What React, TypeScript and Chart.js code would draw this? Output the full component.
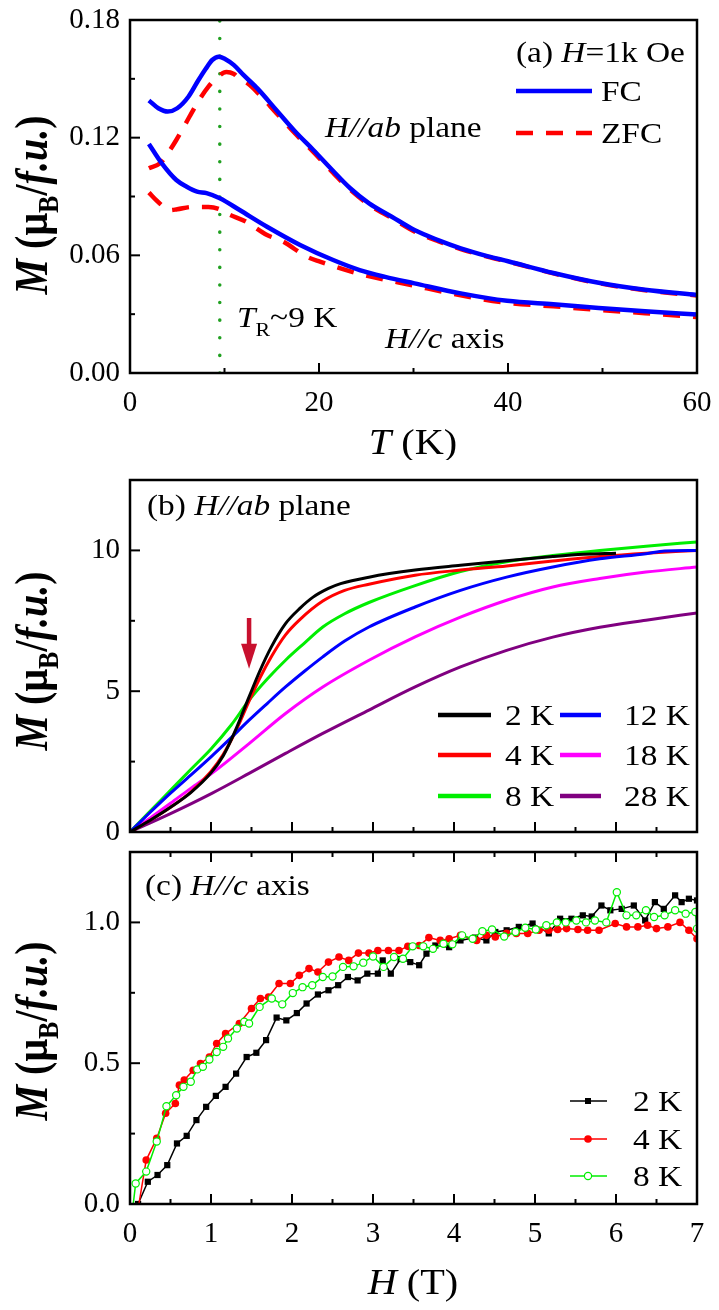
import React, { useEffect, useRef } from 'react';
import { Chart, registerables } from 'chart.js';

Chart.register(...registerables);

const FAM = '"Liberation Serif", "Times New Roman", serif';
const SX = 1.15;

const BLUE = '#0000ff';
const RED = '#ff0000';
const GREEN = '#00ee00';
const BLACK = '#000000';
const MAGENTA = '#ff00ff';
const PURPLE = '#800080';
const DOT_GREEN = '#20a020';
const ARROW_RED = '#c8102e';
const ZFC_DASH = [17, 13];

// ---------- Panel (a): M vs T, H = 1 kOe ----------
const A_X_TICKS = [0, 20, 40, 60];
const A_X_MINOR = [10, 30, 50];
const A_Y_TICKS = [0, 0.06, 0.12, 0.18];
const A_Y_MINOR = [0.03, 0.09, 0.15];
const T_R = 9.5;

const T_AB_FC = [2, 3, 4, 5, 6.2, 7.2, 8, 8.7, 9.4, 10.1, 11, 12, 13.5, 15.5, 17.5, 19.4, 21.4, 23.3, 25.3, 27.7, 30.1, 32.6, 35, 37.9, 40, 44.8, 49.6, 54.5, 60];
const M_AB_FC = [0.139, 0.135, 0.1333, 0.135, 0.141, 0.149, 0.155, 0.1596, 0.1613, 0.16, 0.157, 0.152, 0.145, 0.134, 0.123, 0.1137, 0.1035, 0.0942, 0.0865, 0.0797, 0.0729, 0.0678, 0.0636, 0.0595, 0.057, 0.051, 0.046, 0.0425, 0.0398];

const T_AB_ZFC = [2, 3.2, 4, 4.9, 5.8, 7.1, 8.3, 9.3, 10.2, 11, 11.6, 12.5, 13.5, 15.5, 17.5, 19.4, 21.4, 23.3, 25.3, 27.7, 30.1, 32.6, 35, 37.9, 40, 44.8, 49.6, 54.5, 60];
const M_AB_ZFC = [0.1044, 0.107, 0.112, 0.1188, 0.1264, 0.1375, 0.146, 0.151, 0.1535, 0.1525, 0.15, 0.1475, 0.143, 0.1325, 0.122, 0.1127, 0.1025, 0.0935, 0.0858, 0.079, 0.0722, 0.0672, 0.0632, 0.0592, 0.0568, 0.0508, 0.0458, 0.0422, 0.0395];

const T_C_FC = [2, 3.35, 4.9, 6, 7.1, 8.1, 9.5, 11.6, 14.5, 18, 21.5, 24.3, 27, 30.1, 35, 39.9, 44.8, 49.6, 54.5, 60];
const M_C_FC = [0.1168, 0.107, 0.0984, 0.095, 0.0925, 0.0917, 0.0891, 0.0831, 0.0746, 0.0653, 0.0576, 0.0525, 0.049, 0.0457, 0.0406, 0.0368, 0.035, 0.0332, 0.0315, 0.0298];

const T_C_ZFC = [2, 2.8, 3.5, 4.2, 5, 6.6, 8.3, 9.5, 10.2, 12.3, 14.5, 16.2, 18.7, 20.1, 24.3, 30.1, 35, 39.9, 44.8, 49.6, 54.5, 60];
const M_C_ZFC = [0.092, 0.088, 0.085, 0.083, 0.0835, 0.0847, 0.0847, 0.0835, 0.0815, 0.0771, 0.0704, 0.067, 0.0593, 0.0568, 0.0505, 0.0445, 0.0396, 0.0358, 0.034, 0.0322, 0.0305, 0.0285];

// ---------- Panel (b): M vs H, H // ab ----------
const H_X_TICKS = [0, 1, 2, 3, 4, 5, 6, 7];
const H_X_MINOR = [0.5, 1.5, 2.5, 3.5, 4.5, 5.5, 6.5];
const B_Y_TICKS = [0, 5, 10];
const B_Y_MINOR = [2.5, 7.5];
const ARROW_H = 1.47;
const ARROW_FROM = 7.6;
const ARROW_TO = 5.8;

const H_B2 = [0, 0.25, 0.5, 0.75, 1.0, 1.15, 1.3, 1.47, 1.6, 1.75, 1.92, 2.1, 2.26, 2.45, 2.6, 2.95, 3.52, 4.08, 4.65, 5.22, 5.6, 6.0];
const M_B2 = [0, 0.42, 0.88, 1.4, 2.1, 2.7, 3.6, 4.8, 5.7, 6.6, 7.4, 7.95, 8.34, 8.65, 8.82, 9.05, 9.3, 9.47, 9.63, 9.78, 9.86, 9.9];
const H_B4 = [0, 0.25, 0.5, 0.75, 1.0, 1.15, 1.3, 1.47, 1.6, 1.75, 1.92, 2.1, 2.38, 2.65, 2.95, 3.52, 4.08, 4.65, 5.22, 5.8, 6.37, 7];
const M_B4 = [0, 0.42, 0.88, 1.42, 2.15, 2.75, 3.55, 4.65, 5.45, 6.25, 7.0, 7.55, 8.2, 8.58, 8.8, 9.12, 9.3, 9.45, 9.62, 9.78, 9.9, 10.0];
const H_B8 = [0, 0.25, 0.5, 0.75, 1.0, 1.25, 1.47, 1.7, 1.92, 2.15, 2.38, 2.65, 2.95, 3.52, 4.08, 4.65, 5.22, 5.8, 6.37, 7];
const M_B8 = [0, 0.74, 1.48, 2.22, 2.95, 3.8, 4.68, 5.45, 6.1, 6.7, 7.28, 7.75, 8.15, 8.75, 9.25, 9.6, 9.82, 10.0, 10.15, 10.3];
const H_B12 = [0, 0.25, 0.5, 0.75, 1.0, 1.25, 1.47, 1.7, 1.92, 2.15, 2.38, 2.65, 2.95, 3.52, 4.08, 4.65, 5.22, 5.8, 6.37, 6.6, 7];
const M_B12 = [0, 0.7, 1.38, 2.02, 2.67, 3.35, 3.97, 4.58, 5.15, 5.7, 6.22, 6.78, 7.28, 7.99, 8.58, 9.05, 9.41, 9.7, 9.88, 9.98, 10.0];
const H_B18 = [0, 0.25, 0.5, 0.75, 1.01, 1.47, 1.92, 2.38, 2.95, 3.52, 4.08, 4.65, 5.22, 5.8, 6.37, 7];
const M_B18 = [0, 0.5, 1.02, 1.55, 2.08, 3.14, 4.21, 5.15, 6.1, 6.93, 7.63, 8.23, 8.7, 9.0, 9.23, 9.41];
const H_B28 = [0, 0.5, 1.01, 1.47, 1.92, 2.38, 2.95, 3.52, 4.08, 4.65, 5.22, 5.8, 6.37, 7];
const M_B28 = [0, 0.65, 1.37, 2.08, 2.79, 3.5, 4.33, 5.15, 5.86, 6.45, 6.92, 7.27, 7.52, 7.78];

// ---------- Panel (c): M vs H, H // c ----------
const C_Y_TICKS = [0, 0.5, 1.0];
const C_Y_MINOR = [0.25, 0.75];

const H_C2 = [0.1, 0.22, 0.34, 0.46, 0.58, 0.7, 0.82, 0.94, 1.06, 1.18, 1.31, 1.44, 1.56, 1.68, 1.81, 1.93, 2.06, 2.18, 2.32, 2.45, 2.57, 2.69, 2.81, 2.93, 3.06, 3.12, 3.22, 3.34, 3.46, 3.57, 3.66, 3.77, 3.94, 4.08, 4.26, 4.4, 4.51, 4.65, 4.8, 4.97, 5.17, 5.31, 5.45, 5.59, 5.7, 5.82, 5.93, 6.07, 6.22, 6.36, 6.48, 6.59, 6.73, 6.81, 6.9, 7.0];
const M_C2 = [0, 0.079, 0.103, 0.138, 0.215, 0.242, 0.298, 0.345, 0.384, 0.416, 0.463, 0.522, 0.537, 0.582, 0.662, 0.652, 0.678, 0.712, 0.744, 0.759, 0.777, 0.806, 0.794, 0.818, 0.818, 0.865, 0.818, 0.87, 0.859, 0.848, 0.889, 0.918, 0.912, 0.936, 0.946, 0.936, 0.966, 0.972, 0.984, 0.996, 0.961, 1.013, 1.013, 1.025, 1.021, 1.06, 1.043, 1.048, 1.06, 1.007, 1.072, 1.048, 1.096, 1.072, 1.084, 1.078];
const H_C4 = [0.11, 0.2, 0.33, 0.44, 0.56, 0.61, 0.67, 0.78, 0.87, 0.98, 1.07, 1.18, 1.35, 1.5, 1.61, 1.71, 1.84, 1.98, 2.09, 2.21, 2.32, 2.45, 2.58, 2.7, 2.82, 2.95, 3.06, 3.19, 3.32, 3.43, 3.57, 3.69, 3.83, 3.94, 4.08, 4.28, 4.4, 4.51, 4.65, 4.77, 4.91, 5.05, 5.17, 5.28, 5.39, 5.53, 5.65, 5.79, 5.99, 6.13, 6.27, 6.39, 6.5, 6.64, 6.79, 6.9, 7.0];
const M_C4 = [0, 0.156, 0.233, 0.322, 0.357, 0.422, 0.44, 0.475, 0.499, 0.522, 0.57, 0.605, 0.641, 0.694, 0.73, 0.735, 0.783, 0.783, 0.812, 0.836, 0.824, 0.859, 0.877, 0.865, 0.891, 0.891, 0.9, 0.9, 0.9, 0.915, 0.918, 0.946, 0.936, 0.942, 0.954, 0.936, 0.954, 0.948, 0.961, 0.961, 0.961, 0.972, 0.972, 0.975, 0.978, 0.975, 0.972, 0.972, 0.996, 0.984, 0.984, 0.99, 0.978, 0.984, 1.0, 0.972, 0.942];
const H_C8 = [0.04, 0.07, 0.2, 0.33, 0.45, 0.57, 0.66, 0.75, 0.83, 0.9, 0.98, 1.07, 1.15, 1.21, 1.32, 1.41, 1.47, 1.6, 1.75, 1.88, 2.01, 2.13, 2.25, 2.38, 2.5, 2.63, 2.76, 2.88, 3.0, 3.13, 3.26, 3.37, 3.49, 3.62, 3.74, 3.87, 3.98, 4.1, 4.23, 4.35, 4.47, 4.62, 4.76, 4.88, 5.01, 5.14, 5.27, 5.38, 5.51, 5.63, 5.74, 5.88, 6.01, 6.13, 6.25, 6.37, 6.47, 6.6, 6.73, 6.86, 6.98, 7.0];
const M_C8 = [0, 0.073, 0.115, 0.222, 0.347, 0.386, 0.416, 0.434, 0.478, 0.487, 0.513, 0.54, 0.558, 0.588, 0.623, 0.647, 0.641, 0.7, 0.73, 0.709, 0.749, 0.77, 0.777, 0.806, 0.808, 0.842, 0.844, 0.857, 0.879, 0.842, 0.877, 0.871, 0.915, 0.915, 0.906, 0.924, 0.922, 0.954, 0.942, 0.969, 0.975, 0.95, 0.966, 0.981, 0.975, 0.99, 1.0, 1.0, 1.007, 1.0, 1.007, 1.0, 1.107, 1.025, 1.025, 1.043, 1.019, 1.025, 1.043, 1.031, 1.037, 0.978];

// ---------- helpers ----------
type Seg = { t: string; i?: boolean; b?: boolean; s?: number; dy?: number };

const pts = (xs: number[], ys: number[]) => xs.map((x, k) => ({ x, y: ys[k] }));

function fontOf(sg: Seg, base: number) {
  return `${sg.i ? 'italic ' : ''}${sg.b ? 'bold ' : ''}${sg.s ?? base}px ${FAM}`;
}

function drawRich(ctx: CanvasRenderingContext2D, segs: Seg[], x: number, cy: number, base: number, align: 'left' | 'center' = 'left', rotate = false) {
  ctx.save();
  const ws = segs.map((sg) => {
    ctx.font = fontOf(sg, base);
    return ctx.measureText(sg.t).width;
  });
  const total = ws.reduce((a, b) => a + b, 0);
  ctx.translate(x, cy);
  ctx.scale(SX, 1);
  if (rotate) ctx.rotate(-Math.PI / 2);
  let cx = align === 'center' ? -total / 2 : 0;
  ctx.textBaseline = 'alphabetic';
  ctx.textAlign = 'left';
  ctx.fillStyle = '#000';
  const bl = base * 0.33;
  segs.forEach((sg, k) => {
    ctx.font = fontOf(sg, base);
    ctx.fillText(sg.t, cx, bl + (sg.dy ?? 0));
    cx += ws[k];
  });
  ctx.restore();
}

function seg(ctx: CanvasRenderingContext2D, x1: number, y1: number, x2: number, y2: number, color: string, w: number, dash: number[] = []) {
  ctx.save();
  ctx.strokeStyle = color;
  ctx.lineWidth = w;
  ctx.setLineDash(dash);
  ctx.beginPath();
  ctx.moveTo(x1, y1);
  ctx.lineTo(x2, y2);
  ctx.stroke();
  ctx.restore();
}

const Y_TITLE: Seg[] = [
  { t: 'M', i: true, b: true },
  { t: ' (', b: true },
  { t: 'μ', b: true },
  { t: 'B', b: true, s: 26, dy: 9 },
  { t: '/', b: true },
  { t: 'f.u.', b: true, i: true },
  { t: ')', b: true },
];

type PanelCfg = {
  top: number;
  height: number;
  padTop: number;
  xAxisH: number;
  xMax: number;
  yMax: number;
  xTicks: number[];
  xMinor: number[];
  yTicks: number[];
  yMinor: number[];
  xLabels: boolean;
  topTicks: boolean;
  titleY: number;
  yFmt: (v: number) => string;
  datasets: any[];
  extra: (ctx: CanvasRenderingContext2D, chart: any, off: number) => void;
};

function decorPlugin(cfg: PanelCfg) {
  return {
    id: 'decor',
    afterDraw(chart: any) {
      const { ctx, chartArea: ca, scales } = chart;
      const xs = scales.x;
      const ys = scales.y;
      const tk = (x1: number, y1: number, x2: number, y2: number) => seg(ctx, x1, y1, x2, y2, '#000', 2);
      cfg.xTicks.forEach((v) => {
        const p = xs.getPixelForValue(v);
        tk(p, ca.bottom, p, ca.bottom - 10);
        if (cfg.topTicks) tk(p, ca.top, p, ca.top + 10);
      });
      cfg.xMinor.forEach((v) => {
        const p = xs.getPixelForValue(v);
        tk(p, ca.bottom, p, ca.bottom - 5);
        if (cfg.topTicks) tk(p, ca.top, p, ca.top + 5);
      });
      cfg.yTicks.forEach((v) => {
        const p = ys.getPixelForValue(v);
        tk(ca.left, p, ca.left + 10, p);
      });
      cfg.yMinor.forEach((v) => {
        const p = ys.getPixelForValue(v);
        tk(ca.left, p, ca.left + 5, p);
      });
      ctx.save();
      ctx.strokeStyle = '#000';
      ctx.lineWidth = 2.5;
      ctx.strokeRect(ca.left, ca.top, ca.right - ca.left, ca.bottom - ca.top);
      ctx.restore();
      drawRich(ctx, Y_TITLE, 32, cfg.titleY - cfg.top, 40, 'center', true);
      cfg.extra(ctx, chart, cfg.top);
    },
  };
}

function buildConfig(cfg: PanelCfg): any {
  return {
    type: 'scatter',
    data: { datasets: cfg.datasets },
    options: {
      animation: false,
      responsive: false,
      devicePixelRatio: 1,
      layout: { padding: { left: 0, right: 22, top: cfg.padTop, bottom: 0 } },
      plugins: { legend: { display: false }, tooltip: { enabled: false } },
      elements: { line: { fill: false } },
      scales: {
        x: {
          type: 'linear',
          min: 0,
          max: cfg.xMax,
          grid: { display: false, drawTicks: false },
          border: { display: false },
          ticks: {
            display: cfg.xLabels,
            color: '#000',
            padding: 13,
            maxRotation: 0,
            font: { family: FAM, size: 29 },
            callback: (v: number) => String(v),
          },
          afterBuildTicks: (s: any) => {
            s.ticks = cfg.xTicks.map((v) => ({ value: v }));
          },
          afterFit: (s: any) => {
            s.height = cfg.xAxisH;
            s.paddingLeft = 0;
            s.paddingRight = 0;
          },
        },
        y: {
          type: 'linear',
          min: 0,
          max: cfg.yMax,
          grid: { display: false, drawTicks: false },
          border: { display: false },
          ticks: {
            color: '#000',
            padding: 10,
            font: { family: FAM, size: 29 },
            callback: (v: number) => cfg.yFmt(v),
          },
          afterBuildTicks: (s: any) => {
            s.ticks = cfg.yTicks.map((v) => ({ value: v }));
          },
          afterFit: (s: any) => {
            s.width = 130;
            s.paddingTop = 0;
            s.paddingBottom = 0;
          },
        },
      },
    },
    plugins: [decorPlugin(cfg)],
  };
}

const lineDs = (label: string, xs: number[], ys: number[], color: string, width: number, extra: any = {}) => ({
  label,
  data: pts(xs, ys),
  showLine: true,
  borderColor: color,
  backgroundColor: color,
  borderWidth: width,
  pointRadius: 0,
  tension: 0.35,
  cubicInterpolationMode: 'monotone',
  ...extra,
});

// ---------- panel configs ----------
const PANEL_A: PanelCfg = {
  top: 0,
  height: 460,
  padTop: 20,
  xAxisH: 87,
  xMax: 60,
  yMax: 0.18,
  xTicks: A_X_TICKS,
  xMinor: A_X_MINOR,
  yTicks: A_Y_TICKS,
  yMinor: A_Y_MINOR,
  xLabels: true,
  topTicks: false,
  titleY: 205,
  yFmt: (v) => v.toFixed(2),
  datasets: [
    lineDs('FC ab', T_AB_FC, M_AB_FC, BLUE, 4.5, { order: 0 }),
    lineDs('FC c', T_C_FC, M_C_FC, BLUE, 4.5, { order: 1 }),
    lineDs('ZFC ab', T_AB_ZFC, M_AB_ZFC, RED, 4.5, { order: 2, borderDash: ZFC_DASH }),
    lineDs('ZFC c', T_C_ZFC, M_C_ZFC, RED, 4.5, { order: 3, borderDash: ZFC_DASH }),
    {
      label: 'TR',
      data: [{ x: T_R, y: 0 }, { x: T_R, y: 0.18 }],
      showLine: true,
      borderColor: DOT_GREEN,
      borderWidth: 3.5,
      borderDash: [0.1, 17.5],
      borderCapStyle: 'round',
      pointRadius: 0,
      order: 5,
    },
  ],
  extra: (ctx, chart, off) => {
    drawRich(ctx, [{ t: 'T', i: true }, { t: ' (K)' }], 413, 442 - off, 35, 'center');
    drawRich(ctx, [{ t: '(a) ' }, { t: 'H', i: true }, { t: '=1k Oe' }], 516, 52 - off, 29);
    seg(ctx, 516, 91 - off, 592, 91 - off, BLUE, 4.5);
    drawRich(ctx, [{ t: 'FC' }], 601, 91 - off, 29);
    seg(ctx, 516, 133 - off, 592, 133 - off, RED, 4.5, ZFC_DASH);
    drawRich(ctx, [{ t: 'ZFC' }], 601, 133 - off, 29);
    drawRich(ctx, [{ t: 'H//ab', i: true }, { t: ' plane' }], 325, 127 - off, 29);
    drawRich(ctx, [{ t: 'T', i: true }, { t: 'R', s: 19, dy: 9 }, { t: '~9 K' }], 237, 317 - off, 29);
    drawRich(ctx, [{ t: 'H//c', i: true }, { t: ' axis' }], 385, 338 - off, 29);
  },
};

const PANEL_B: PanelCfg = {
  top: 460,
  height: 395,
  padTop: 20,
  xAxisH: 23,
  xMax: 7,
  yMax: 12.5,
  xTicks: H_X_TICKS,
  xMinor: H_X_MINOR,
  yTicks: B_Y_TICKS,
  yMinor: B_Y_MINOR,
  xLabels: false,
  topTicks: false,
  titleY: 661,
  yFmt: (v) => String(v),
  datasets: [
    lineDs('2 K', H_B2, M_B2, BLACK, 3),
    lineDs('12 K', H_B12, M_B12, BLUE, 3),
    lineDs('4 K', H_B4, M_B4, RED, 3),
    lineDs('18 K', H_B18, M_B18, MAGENTA, 3),
    lineDs('8 K', H_B8, M_B8, GREEN, 3),
    lineDs('28 K', H_B28, M_B28, PURPLE, 3),
  ],
  extra: (ctx, chart, off) => {
    drawRich(ctx, [{ t: '(b) ' }, { t: 'H//ab', i: true }, { t: ' plane' }], 147, 505 - off, 29);
    const cols = [
      [438, 491, 505],
      [560, 601, 624],
    ];
    const rows = [715, 755, 796];
    chart.data.datasets.forEach((ds: any, k: number) => {
      const c = cols[k % 2];
      const y = rows[Math.floor(k / 2)] - off;
      seg(ctx, c[0], y, c[1], y, ds.borderColor, 4.5);
      drawRich(ctx, [{ t: ds.label }], c[2], y, 29);
    });
    const xs = chart.scales.x;
    const ys = chart.scales.y;
    const ax = xs.getPixelForValue(ARROW_H);
    const y1 = ys.getPixelForValue(ARROW_FROM);
    const y2 = ys.getPixelForValue(ARROW_TO);
    seg(ctx, ax, y1, ax, y2 - 20, ARROW_RED, 4.5);
    ctx.save();
    ctx.fillStyle = ARROW_RED;
    ctx.beginPath();
    ctx.moveTo(ax - 8, y2 - 25);
    ctx.lineTo(ax + 8, y2 - 25);
    ctx.lineTo(ax, y2);
    ctx.closePath();
    ctx.fill();
    ctx.restore();
  },
};

const firstHidden = (arr: number[], r: number) => arr.map((_, k) => (k === 0 ? 0 : r));

const PANEL_C: PanelCfg = {
  top: 840,
  height: 470,
  padTop: 12,
  xAxisH: 106,
  xMax: 7,
  yMax: 1.25,
  xTicks: H_X_TICKS,
  xMinor: H_X_MINOR,
  yTicks: C_Y_TICKS,
  yMinor: C_Y_MINOR,
  xLabels: true,
  topTicks: true,
  titleY: 1031,
  yFmt: (v) => v.toFixed(1),
  datasets: [
    {
      label: '2 K',
      data: pts(H_C2, M_C2),
      showLine: true,
      borderColor: BLACK,
      backgroundColor: BLACK,
      borderWidth: 1.5,
      pointStyle: 'rect',
      pointRadius: 4.4,
      pointBorderWidth: 0,
      tension: 0,
      order: 2,
    },
    {
      label: '4 K',
      data: pts(H_C4, M_C4),
      showLine: true,
      borderColor: RED,
      backgroundColor: RED,
      borderWidth: 1.5,
      pointStyle: 'circle',
      pointRadius: firstHidden(H_C4, 3.8),
      pointBorderWidth: 0,
      tension: 0,
      order: 1,
    },
    {
      label: '8 K',
      data: pts(H_C8, M_C8),
      showLine: true,
      borderColor: GREEN,
      backgroundColor: '#ffffff',
      pointBackgroundColor: '#ffffff',
      pointBorderColor: GREEN,
      borderWidth: 1.5,
      pointStyle: 'circle',
      pointRadius: firstHidden(H_C8, 3.6),
      pointBorderWidth: 1.2,
      tension: 0,
      order: 0,
    },
  ],
  extra: (ctx, chart, off) => {
    drawRich(ctx, [{ t: 'H', i: true }, { t: ' (T)' }], 413, 1282 - off, 35, 'center');
    drawRich(ctx, [{ t: '(c) ' }, { t: 'H//c', i: true }, { t: ' axis' }], 145, 885 - off, 29);
    const rows = [1101, 1139, 1176];
    chart.data.datasets.forEach((ds: any, k: number) => {
      const y = rows[k] - off;
      seg(ctx, 570, y, 607, y, ds.borderColor, 1.5);
      ctx.save();
      if (k === 0) {
        ctx.fillStyle = BLACK;
        ctx.fillRect(588 - 3, y - 3, 6, 6);
      } else if (k === 1) {
        ctx.fillStyle = RED;
        ctx.beginPath();
        ctx.arc(588, y, 3.8, 0, Math.PI * 2);
        ctx.fill();
      } else {
        ctx.fillStyle = '#fff';
        ctx.strokeStyle = GREEN;
        ctx.lineWidth = 1.2;
        ctx.beginPath();
        ctx.arc(588, y, 3.6, 0, Math.PI * 2);
        ctx.fill();
        ctx.stroke();
      }
      ctx.restore();
      drawRich(ctx, [{ t: ds.label }], 633, y, 29);
    });
  },
};

function Panel({ cfg }: { cfg: PanelCfg }) {
  const ref = useRef<HTMLCanvasElement>(null);
  useEffect(() => {
    if (!ref.current) return;
    const chart = new Chart(ref.current, buildConfig(cfg));
    return () => chart.destroy();
  }, [cfg]);
  return (
    <canvas
      ref={ref}
      width={719}
      height={cfg.height}
      style={{ position: 'absolute', left: 0, top: cfg.top, width: 719, height: cfg.height, display: 'block' }}
    />
  );
}

export default function App() {
  return (
    <div style={{ position: 'absolute', left: 0, top: 0, width: 719, height: 1310, background: '#ffffff', overflow: 'hidden' }}>
      <Panel cfg={PANEL_A} />
      <Panel cfg={PANEL_B} />
      <Panel cfg={PANEL_C} />
    </div>
  );
}
